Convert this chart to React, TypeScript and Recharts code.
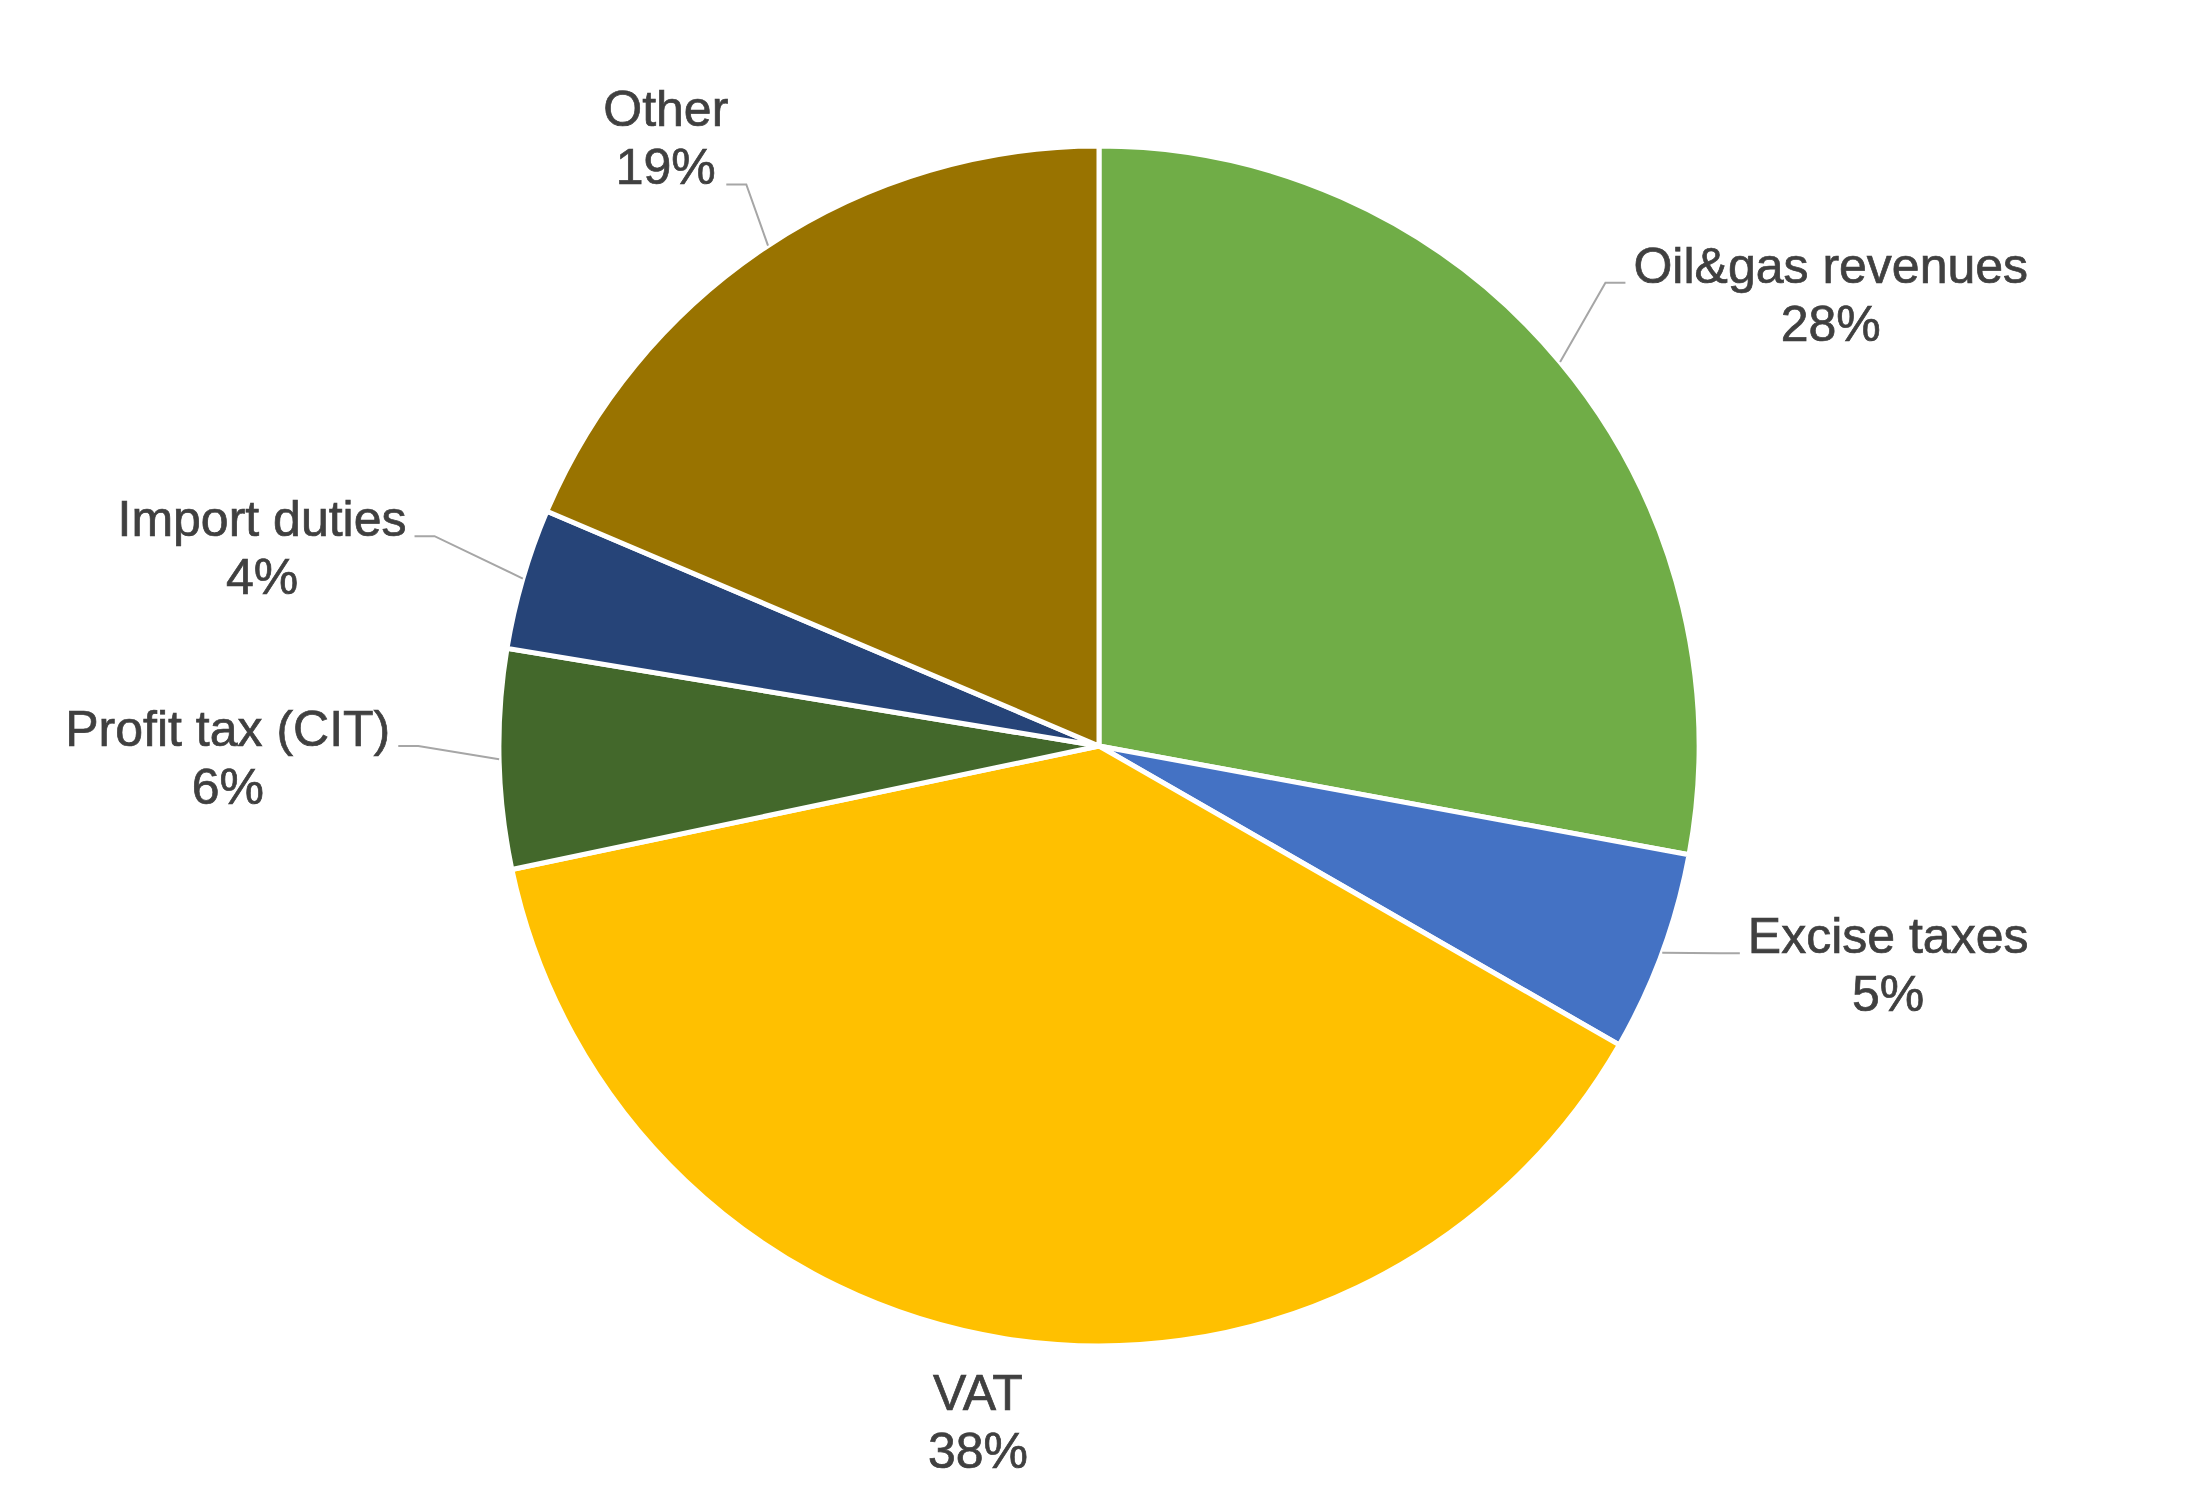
import React from 'react';
import { PieChart, Pie, Cell } from 'recharts';

const categories = ['Oil&gas revenues', 'Excise taxes', 'VAT', 'Profit tax (CIT)', 'Import duties', 'Other'];
const shares = [27.9, 5.4, 38.4, 5.9, 3.8, 18.6];
const sliceColors = ['#70AD47', '#4472C4', '#FFC000', '#43682B', '#264478', '#997300'];

const data = categories.map((name, i) => ({ name, value: shares[i] }));

const FONT_SIZE = 50;
const LINE = 58;
const FONT_FAMILY = '"Liberation Sans", Arial, sans-serif';
const TEXT_COLOR = '#404040';
const LEADER_COLOR = '#A6A6A6';

let ctx: CanvasRenderingContext2D | null = null;
function measure(s: string): number {
  if (typeof document !== 'undefined') {
    if (!ctx) ctx = document.createElement('canvas').getContext('2d');
    if (ctx) {
      ctx.font = `${FONT_SIZE}px ${FONT_FAMILY}`;
      return ctx.measureText(s).width;
    }
  }
  return s.length * FONT_SIZE * 0.55;
}

const renderLabel = (p: any) => {
  const { cx, cy, midAngle, outerRadius, percent, name } = p;
  const rad = Math.PI / 180;
  const dx = Math.cos(-midAngle * rad);
  const dy = Math.sin(-midAngle * rad);
  const lines = [name, `${Math.round(percent * 100)}%`];
  const w = Math.max(...lines.map(measure));
  const textStyle = {
    fontFamily: FONT_FAMILY,
    fontSize: FONT_SIZE,
    fill: TEXT_COLOR,
    stroke: TEXT_COLOR,
    strokeWidth: 0.7,
  };

  if (dy > 0.9) {
    const vy = cy + outerRadius * 1.14 * dy;
    const x = cx + (vy - cy) * (dx / dy) - 14;
    const y = vy - 12;
    return (
      <g>
        <text x={x} y={y} textAnchor="middle" style={textStyle}>
          <tspan x={x}>{lines[0]}</tspan>
          <tspan x={x} dy={LINE}>{lines[1]}</tspan>
        </text>
      </g>
    );
  }

  const sx = cx + outerRadius * dx;
  const sy = cy + outerRadius * dy;
  const isTop = dy < -0.7;
  const right = dx >= 0;
  const rx = cx + outerRadius * 1.12 * dx;
  const ry = cy + outerRadius * 1.12 * dy;

  let ex: number;
  let ey: number;
  let boxLeft: number;
  let hx: number;
  let base1: number;
  if (isTop) {
    ey = ry - 1;
    ex = rx + 18;
    hx = ex - 20;
    boxLeft = rx - w;
    base1 = ey - LINE;
  } else {
    ey = ry - 14 - 30 * Math.abs(dy);
    if (right) {
      ex = rx - 10;
      hx = ex + 20;
      boxLeft = ex + 28;
    } else {
      const gap = 36 + 40 * Math.abs(dy);
      ex = rx - gap + 28;
      hx = ex - 20;
      boxLeft = ex - 28 - w;
    }
    base1 = ey;
  }
  const mid = boxLeft + w / 2;

  return (
    <g>
      <polyline
        points={`${sx},${sy} ${ex},${ey} ${hx},${ey}`}
        fill="none"
        stroke={LEADER_COLOR}
        strokeWidth={2}
      />
      <text x={mid} y={base1} textAnchor="middle" style={textStyle}>
        <tspan x={mid}>{lines[0]}</tspan>
        <tspan x={mid} dy={LINE}>{lines[1]}</tspan>
      </text>
    </g>
  );
};

export default function App() {
  return (
    <PieChart width={2179} height={1482} margin={{ top: 0, right: 0, bottom: 0, left: 0 }}>
      <Pie
        data={data}
        dataKey="value"
        nameKey="name"
        cx={1091}
        cy={738}
        outerRadius={600}
        startAngle={90}
        endAngle={-270}
        stroke="#FFFFFF"
        strokeWidth={5}
        label={renderLabel}
        labelLine={false}
        isAnimationActive={false}
      >
        {data.map((d, i) => (
          <Cell key={d.name} fill={sliceColors[i]} />
        ))}
      </Pie>
    </PieChart>
  );
}
